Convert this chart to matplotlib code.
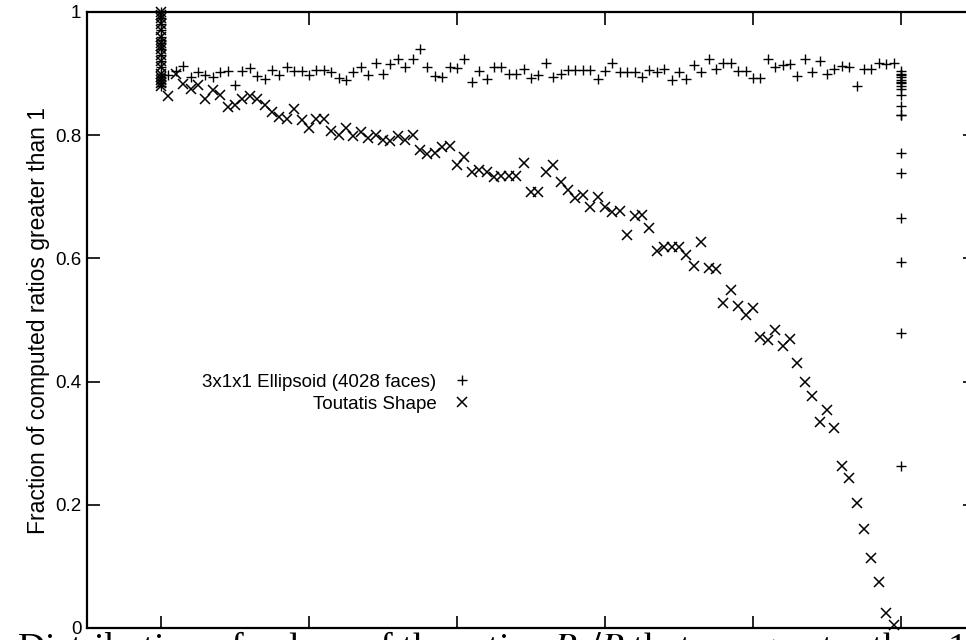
import numpy as np
import matplotlib
matplotlib.use("Agg")
from matplotlib import pyplot as plt

# 3x1x1 ellipsoid: x = 0.00 .. 1.00 step 0.01, extra samples piled on both ends
ell_x_mid = np.arange(1, 100) / 100
ell_y_mid = [0.898, 0.904, 0.912, 0.895, 0.902, 0.898, 0.895, 0.902, 0.904, 0.881,
             0.904, 0.909, 0.896, 0.892, 0.906, 0.898, 0.911, 0.905, 0.904, 0.898,
             0.906, 0.906, 0.903, 0.893, 0.889, 0.902, 0.911, 0.898, 0.918, 0.900,
             0.915, 0.923, 0.911, 0.924, 0.940, 0.911, 0.896, 0.895, 0.911, 0.909,
             0.924, 0.886, 0.904, 0.892, 0.911, 0.911, 0.900, 0.899, 0.907, 0.893,
             0.898, 0.917, 0.894, 0.900, 0.906, 0.906, 0.906, 0.906, 0.892, 0.905,
             0.917, 0.902, 0.903, 0.902, 0.894, 0.906, 0.903, 0.907, 0.890, 0.903,
             0.892, 0.914, 0.902, 0.924, 0.907, 0.917, 0.918, 0.904, 0.904, 0.893,
             0.893, 0.923, 0.910, 0.914, 0.915, 0.896, 0.923, 0.903, 0.921, 0.900,
             0.907, 0.912, 0.911, 0.880, 0.907, 0.907, 0.918, 0.915, 0.918]
ell_y_start = [1.0, 0.99, 0.98, 0.97, 0.96, 0.955, 0.95, 0.94, 0.93, 0.92,
               0.91, 0.90, 0.895, 0.89, 0.885, 0.88]
ell_y_end = [0.905, 0.90, 0.897, 0.895, 0.89, 0.887, 0.885, 0.88, 0.875, 0.865,
             0.847, 0.833, 0.832, 0.771, 0.738, 0.666, 0.594, 0.479, 0.263]

# Toutatis shape
tou_x_mid = np.arange(1, 100) / 100
tou_y_mid = [0.863, 0.900, 0.883, 0.875, 0.881, 0.858, 0.873, 0.865, 0.846, 0.849,
             0.858, 0.864, 0.858, 0.849, 0.838, 0.830, 0.827, 0.842, 0.825, 0.811,
             0.827, 0.827, 0.807, 0.800, 0.811, 0.798, 0.806, 0.795, 0.800, 0.792,
             0.791, 0.799, 0.793, 0.800, 0.776, 0.769, 0.771, 0.781, 0.783, 0.752,
             0.765, 0.741, 0.744, 0.741, 0.732, 0.733, 0.733, 0.733, 0.755, 0.708,
             0.708, 0.741, 0.752, 0.724, 0.711, 0.698, 0.703, 0.684, 0.699, 0.684,
             0.675, 0.677, 0.638, 0.669, 0.670, 0.650, 0.612, 0.619, 0.619, 0.619,
             0.606, 0.588, 0.627, 0.585, 0.582, 0.527, 0.548, 0.523, 0.508, 0.519,
             0.473, 0.468, 0.484, 0.457, 0.469, 0.430, 0.399, 0.377, 0.335, 0.354,
             0.324, 0.263, 0.243, 0.203, 0.160, 0.113, 0.074, 0.025, 0.005]
tou_y_start = [1.0, 0.995, 0.99, 0.98, 0.97, 0.96, 0.95, 0.945, 0.94, 0.93,
               0.92, 0.91, 0.90, 0.895, 0.89, 0.885, 0.88]

labels = ["3x1x1 Ellipsoid (4028 faces)", "Toutatis Shape"]
yticks = [0, 0.2, 0.4, 0.6, 0.8, 1]
ytick_labels = ["0", "0.2", "0.4", "0.6", "0.8", "1"]
xticks = [0, 0.2, 0.4, 0.6, 0.8, 1.0]

ell_x = np.concatenate([np.zeros(len(ell_y_start)), ell_x_mid, np.ones(len(ell_y_end))])
ell_y = np.concatenate([ell_y_start, ell_y_mid, ell_y_end])
tou_x = np.concatenate([np.zeros(len(tou_y_start)), tou_x_mid])
tou_y = np.concatenate([tou_y_start, tou_y_mid])

plt.rcParams['font.family'] = ['Liberation Sans', 'DejaVu Sans']
plt.rcParams['mathtext.fontset'] = 'stix'

fig = plt.figure(figsize=(9.66, 6.4), dpi=100)
ax = fig.add_axes([87 / 966, 12 / 640, 888 / 966, 616 / 640])

ax.plot(ell_x, ell_y, ls='none', marker='+', ms=7.5, mew=1.0, color='black',
        clip_on=False, label=labels[0])
ax.plot(tou_x, tou_y, ls='none', marker='x', ms=7.5, mew=1.1, color='black',
        clip_on=False, label=labels[1])

ax.set_xlim(-0.1, 1.1)
ax.set_ylim(0, 1)
ax.set_xticks(xticks)
ax.set_xticklabels([])
ax.set_yticks(yticks)
ax.set_yticklabels(ytick_labels, fontsize=13.5)
ax.tick_params(direction='in', length=9, width=1.2, top=True, right=True, pad=4)
for s in ax.spines.values():
    s.set_linewidth(1.6)

ax.set_ylabel("Fraction of computed ratios greater than 1", fontsize=16.5, labelpad=4)

ax.legend(loc='upper left', bbox_to_anchor=(0.113, 0.437), frameon=False,
          markerfirst=False, fontsize=13.5, handlelength=0.9, handletextpad=0.9,
          labelspacing=0.25, borderpad=0.3)

fig.text(0.018, 11 / 640, "Distribution of values of the ratios $P_e/P$ that are greater than 1",
         family='Liberation Serif', fontsize=27.5, va='top', ha='left')

fig.savefig("out.png", dpi=100)
